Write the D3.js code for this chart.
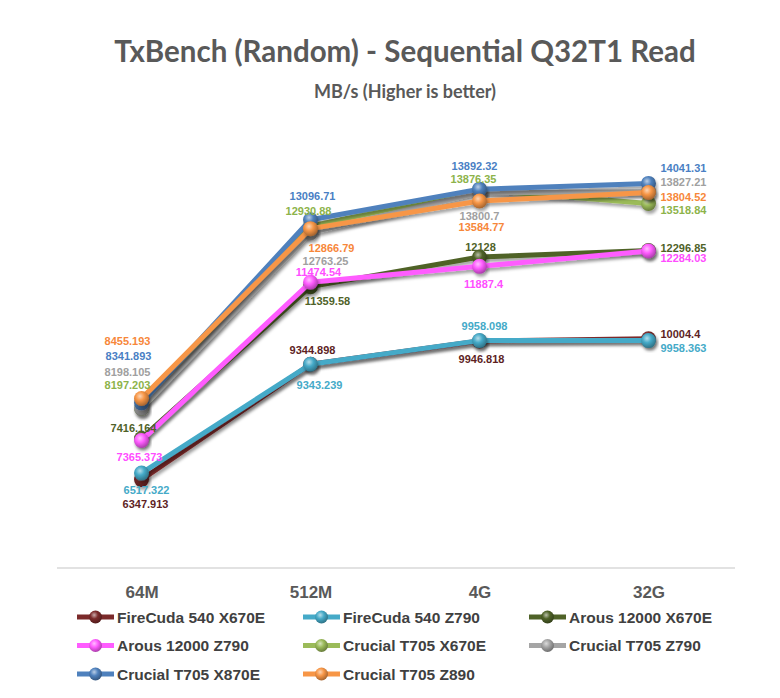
<!DOCTYPE html>
<html>
<head>
<meta charset="utf-8">
<script src="https://cdn.jsdelivr.net/npm/d3@7"></script>
<style>
  body { margin: 0; background: #fff; }
  svg { display: block; }
</style>
</head>
<body>
<svg width="780" height="698"></svg>
<script>
// Data
const categories = ["64M", "512M", "4G", "32G"];
const seriesNames = [
  "FireCuda 540 X670E", "FireCuda 540 Z790", "Arous 12000 X670E", "Arous 12000 Z790",
  "Crucial T705 X670E", "Crucial T705 Z790", "Crucial T705 X870E", "Crucial T705 Z890"
];
const fireCudaX670E = [6347.913, 9344.898, 9946.818, 10004.4];
const fireCudaZ790 = [6517.322, 9343.239, 9958.098, 9958.363];
const arousX670E = [7416.164, 11359.58, 12128, 12296.85];
const arousZ790 = [7365.373, 11474.54, 11887.4, 12284.03];
const t705X670E = [8197.203, 12930.88, 13876.35, 13518.84];
const t705Z790 = [8198.105, 12763.25, 13800.7, 13827.21];
const t705X870E = [8341.893, 13096.71, 13892.32, 14041.31];
const t705Z890 = [8455.193, 12866.79, 13584.77, 13804.52];

const values = [fireCudaX670E, fireCudaZ790, arousX670E, arousZ790,
  t705X670E, t705Z790, t705X870E, t705Z890];

// look
const colors = ["#7b2a2a", "#45aac8", "#4f6228", "#ff5cff", "#9bbb59", "#a5a5a5", "#4f81bd", "#f79646"];
const labelColors = ["#5e1f1f", "#45aac8", "#4f6228", "#ff4dff", "#8db34a", "#a0a0a0", "#4a7fc4", "#f7873a"];
// data label offsets from each point [dx, dy], per series, per category
const labelOffsets = [
  [[4, 24], [2, -14], [2, 18], [12, -5]],
  [[5, 17], [9, 21], [5, -15], [12, 7]],
  [[-8, -10], [17, 14], [1, -10], [12, -3]],
  [[-2, 17], [8, -10], [4, 18], [12, 7]],
  [[-14, -23], [-2, -15], [-6, -11], [12, 7]],
  [[-14, -36], [15, 28], [0, 23], [12, -10]],
  [[-13, -47], [2, -24], [-5, -23], [12, -15]],
  [[-14, -57], [21, 19], [2, 26], [12, 5]]
];

const svg = d3.select("svg");

let x = d3.scalePoint().domain(categories).range([57, 733]).padding(0.5);
let y = d3.scaleLinear().domain([4000, 16000]).range([570, 108]);

// defs: shadow + sphere gradients
const defs = svg.append("defs");
const shadow = defs.append("filter").attr("id", "shadow")
  .attr("x", "-10%").attr("y", "-10%").attr("width", "130%").attr("height", "140%");
shadow.append("feDropShadow")
  .attr("dx", 1.5).attr("dy", 3).attr("stdDeviation", 1.6)
  .attr("flood-color", "#000").attr("flood-opacity", 0.35);

colors.forEach(function (c, i) {
  const g = defs.append("radialGradient").attr("id", "ball" + i)
    .attr("cx", "40%").attr("cy", "35%").attr("r", "65%");
  g.append("stop").attr("offset", "0%").attr("stop-color", d3.interpolateRgb(c, "#fff")(0.6));
  g.append("stop").attr("offset", "45%").attr("stop-color", c);
  g.append("stop").attr("offset", "100%").attr("stop-color", d3.color(c).darker(1.1));
});

// titles
svg.append("text")
  .attr("x", 405).attr("y", 62)
  .attr("text-anchor", "middle")
  .style("font-family", "Lato, 'Open Sans', sans-serif")
  .style("font-weight", "bold")
  .style("font-size", "29.5px")
  .style("fill", "#595959")
  .text("TxBench (Random) - Sequential Q32T1 Read");

svg.append("text")
  .attr("x", 405).attr("y", 98)
  .attr("text-anchor", "middle")
  .style("font-family", "Lato, 'Open Sans', sans-serif")
  .style("font-weight", "bold")
  .style("font-size", "18px")
  .style("fill", "#595959")
  .text("MB/s (Higher is better)");

// category axis
svg.append("line")
  .attr("x1", 57).attr("x2", 735)
  .attr("y1", 568).attr("y2", 568)
  .style("stroke", "#d9d9d9")
  .style("stroke-width", 1.5);

let xAxis = d3.axisBottom(x).tickSize(0).tickPadding(0);
const axisG = svg.append("g")
  .attr("transform", "translate(0, 598)")
  .call(xAxis);
axisG.select(".domain").remove();
axisG.selectAll("text")
  .attr("dy", 0)
  .style("font-family", "'Liberation Sans', Arial, sans-serif")
  .style("font-weight", "bold")
  .style("font-size", "17px")
  .style("fill", "#595959");

// lines
let line = d3.line()
  .x(function (d, i) { return x(categories[i]); })
  .y(function (d) { return y(d); });

const series = svg.append("g").selectAll("g")
  .data(values)
  .join("g");

series.append("path")
  .attr("d", function (d) { return line(d); })
  .style("fill", "none")
  .style("stroke", function (d, i) { return colors[i]; })
  .style("stroke-width", 5)
  .style("stroke-linejoin", "round")
  .attr("filter", "url(#shadow)");

series.each(function (d, si) {
  d3.select(this).selectAll("circle")
    .data(d)
    .join("circle")
    .attr("cx", function (v, i) { return x(categories[i]); })
    .attr("cy", function (v) { return y(v); })
    .attr("r", 7.5)
    .style("fill", "url(#ball" + si + ")")
    .attr("filter", "url(#shadow)");
});

// data labels
const labels = svg.append("g");
values.forEach(function (vals, si) {
  labels.selectAll(null)
    .data(vals)
    .join("text")
    .attr("x", function (v, i) { return x(categories[i]) + labelOffsets[si][i][0]; })
    .attr("y", function (v, i) { return y(v) + labelOffsets[si][i][1]; })
    .attr("dy", "0.36em")
    .attr("text-anchor", function (v, i) { return i === 3 ? "start" : "middle"; })
    .style("font-family", "'Liberation Sans', Arial, sans-serif")
    .style("font-weight", "bold")
    .style("font-size", "11px")
    .style("fill", labelColors[si])
    .text(function (v) { return String(v); });
});

// legend
const legend = svg.append("g")
  .selectAll("g")
  .data(seriesNames)
  .join("g")
  .attr("transform", function (d, i) {
    return "translate(" + (77 + (i % 3) * 226) + "," + (617 + Math.floor(i / 3) * 28.5) + ")";
  });

legend.append("line")
  .attr("x1", 0).attr("x2", 37)
  .attr("y1", 0).attr("y2", 0)
  .style("stroke", function (d, i) { return colors[i]; })
  .style("stroke-width", 5);

legend.append("circle")
  .attr("cx", 18.5).attr("cy", 0).attr("r", 6.5)
  .style("fill", function (d, i) { return "url(#ball" + i + ")"; });

legend.append("text")
  .attr("x", 40).attr("y", 0)
  .attr("dy", "0.36em")
  .style("font-family", "'Liberation Sans', Arial, sans-serif")
  .style("font-weight", "bold")
  .style("font-size", "15.5px")
  .style("fill", "#404040")
  .text(function (d) { return d; });
</script>
</body>
</html>
